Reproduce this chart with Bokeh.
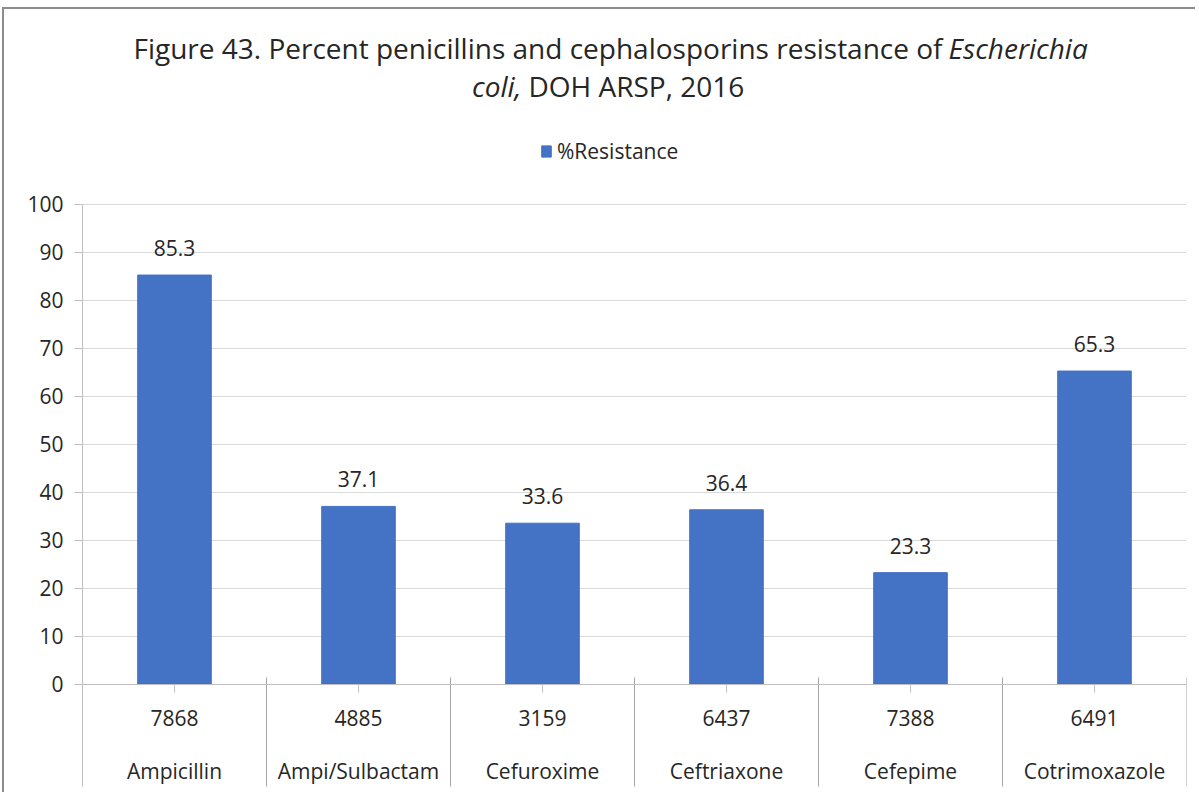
from bokeh.plotting import figure
from bokeh.models import (Range1d, FixedTicker, ColumnDataSource, Legend, LegendItem, Span)
from bokeh.core.properties import value
from bokeh.embed import file_html
from bokeh.resources import INLINE

# ---- data ----
antibiotics = ["Ampicillin", "Ampi/Sulbactam", "Cefuroxime", "Ceftriaxone", "Cefepime", "Cotrimoxazole"]
isolates = ["7868", "4885", "3159", "6437", "7388", "6491"]
resistance = [85.3, 37.1, 33.6, 36.4, 23.3, 65.3]
y_ticks = [0, 10, 20, 30, 40, 50, 60, 70, 80, 90, 100]

FONT = "Open Sans"
TXT = "#262626"
BAR = "#4472C4"

n = len(antibiotics)
xc = [i + 0.5 for i in range(n)]
src = ColumnDataSource(dict(x=xc, top=resistance, lab=[f"{v:.1f}" for v in resistance],
                            cnt=isolates, name=antibiotics))

PX_PER_UNIT = 4.8  # vertical scale (pixels per percent)

p = figure(width=1193, height=785, output_backend="svg", toolbar_location=None,
           x_range=Range1d(0, n), y_range=Range1d(-22.92, 140.625),
           min_border_left=78, min_border_right=11, min_border_top=0, min_border_bottom=0,
           x_axis_type=None)
p.styles = {"border-top": "2px solid #8c8c8c", "border-left": "2px solid #8c8c8c",
            "margin-top": "7px", "margin-left": "2px"}
p.outline_line_color = None
p.background_fill_color = "white"
p.border_fill_color = "white"

# y axis
yax = p.yaxis[0]
yax.ticker = FixedTicker(ticks=y_ticks)
yax.bounds = (-21.25, 100)
yax.axis_line_color = "#bfbfbf"
yax.major_tick_line_color = "#bfbfbf"
yax.major_tick_in = 0
yax.major_tick_out = 8
yax.minor_tick_line_color = None
yax.major_label_text_font = FONT
yax.major_label_text_font_size = "21px"
yax.major_label_text_color = TXT
yax.major_label_standoff = 11
p.ygrid.ticker = FixedTicker(ticks=y_ticks)
p.ygrid.bounds = (0, 100)
p.ygrid.grid_line_color = "#d9d9d9"
p.xgrid.grid_line_color = None

# x axis line at 0
p.add_layout(Span(location=0, dimension="width", line_color="#bfbfbf", line_width=1))

# bars
bars = p.vbar(x="x", top="top", width=0.4, bottom=0, source=src, fill_color=BAR, line_color=BAR)

# category tick marks and separators
p.segment(x0=xc, y0=[0] * n, x1=xc, y1=[-8 / PX_PER_UNIT] * n, line_color="#bfbfbf", line_width=1)
sep = list(range(n + 1))
p.segment(x0=sep, y0=[7 / PX_PER_UNIT] * (n + 1), x1=sep, y1=[-21.25] * (n + 1),
          line_color="#a6a6a6", line_width=1)

# data labels
p.text(x="x", y="top", text="lab", source=src, y_offset=-27, text_align="center",
       text_baseline="middle", text_font=value(FONT), text_font_size="21px", text_color=TXT)

# category labels (two levels)
p.text(x="x", y=-7.0, text="cnt", source=src, text_align="center", text_baseline="middle",
       text_font=value(FONT), text_font_size="21px", text_color=TXT)
p.text(x="x", y=-18.0, text="name", source=src, text_align="center", text_baseline="middle",
       text_font=value(FONT), text_font_size="21px", text_color=TXT)

# title (mixed upright / italic)
TS = "28px"
p.text(x=[4.674], y=[132.6], text=["Figure 43. Percent penicillins and cephalosporins resistance of"],
       text_align="right", text_baseline="middle", text_font=value(FONT), text_font_size=TS, text_color=TXT)
p.text(x=[4.707], y=[132.6], text=["Escherichia"], text_align="left", text_baseline="middle",
       text_font=value(FONT), text_font_size=TS, text_font_style="italic", text_color=TXT)
p.text(x=[2.386], y=[124.6], text=["coli,"], text_align="right", text_baseline="middle",
       text_font=value(FONT), text_font_size=TS, text_font_style="italic", text_color=TXT)
p.text(x=[2.424], y=[124.6], text=["DOH ARSP, 2016"], text_align="left", text_baseline="middle",
       text_font=value(FONT), text_font_size=TS, text_color=TXT)

# legend
legend = Legend(items=[LegendItem(label="%Resistance", renderers=[bars])],
                location=(458, 629), orientation="horizontal",
                border_line_color=None, background_fill_alpha=0, padding=0, margin=0,
                glyph_width=12, glyph_height=14, label_standoff=5,
                label_text_font=FONT, label_text_font_size="21px", label_text_color=TXT)
p.add_layout(legend)

open("out.html", "w").write(file_html(p, INLINE))
